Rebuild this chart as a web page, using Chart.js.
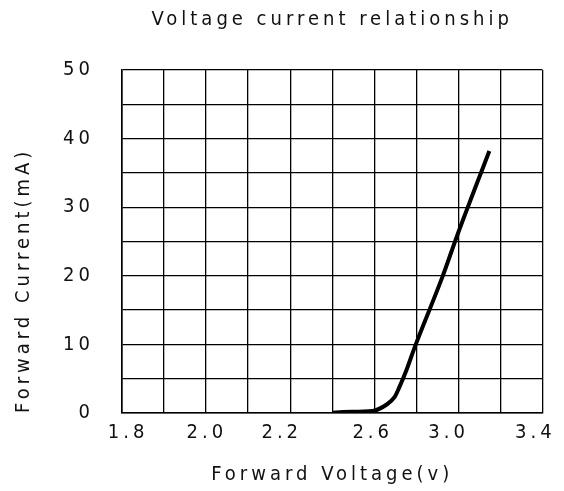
<!DOCTYPE html>
<html>
<head>
<meta charset="utf-8">
<script src="https://cdn.jsdelivr.net/npm/chart.js@4/dist/chart.umd.min.js"></script>
<style>
  body { margin: 0; background: #fff; }
  #wrap { width: 564px; height: 491px; }
</style>
</head>
<body>
<div id="wrap"><canvas id="ivChart"></canvas></div>
<script>
'use strict';

// curve (x in axis units, y in mA)
const forwardVoltage = [2.600, 2.640, 2.754, 2.806, 2.837, 2.856, 2.883, 2.914, 3.019, 3.074, 3.198];
const forwardCurrent = [0, 0.15, 0.3, 1.2, 2.3, 3.8, 6.3, 9.6, 19.8, 25.7, 38.2];

// x tick labels and where they sit along the axis
const xTickLabels = ['1.8', '2.0', '2.2', '2.6', '3.0', '3.4'];
const xTickValues = [1.823, 2.123, 2.408, 2.754, 3.043, 3.373];

const fontFamily = '"Liberation Sans Narrow", "DejaVu Sans Condensed", "Liberation Sans", sans-serif';
const textFont = { family: fontFamily, size: 20 };

// the reference text is widely spaced
const spacing = {
  id: 'spacing',
  beforeLayout(chart) { chart.ctx.letterSpacing = '4px'; },
  beforeDraw(chart) { chart.ctx.letterSpacing = '4px'; }
};

let ctx = document.getElementById('ivChart');
let ivChart = new Chart(ctx, {
  type: 'line',
  data: {
    datasets: [{
      data: forwardVoltage.map((v, i) => ({ x: v, y: forwardCurrent[i] })),
      borderColor: '#000',
      borderWidth: 4,
      pointRadius: 0,
      cubicInterpolationMode: 'monotone',
      xAxisID: 'x',
      yAxisID: 'y'
    }]
  },
  options: {
    responsive: true,
    maintainAspectRatio: false,
    animation: false,
    layout: { padding: { top: 0, right: 21, bottom: 0, left: 0 } },
    plugins: {
      legend: { display: false },
      tooltip: { enabled: false },
      title: {
        display: true,
        text: 'Voltage current relationship',
        fullSize: false,
        color: '#111',
        font: { family: fontFamily, size: 20, weight: 'normal' },
        padding: { top: 8, bottom: 38 }
      }
    },
    scales: {
      x: {
        type: 'linear',
        min: 1.8,
        max: 3.4,
        weight: 0,
        afterBuildTicks(scale) {
          // 10 equal columns
          scale.ticks = [];
          for (let i = 0; i <= 10; i++) {
            scale.ticks.push({ value: scale.min + i * (scale.max - scale.min) / 10 });
          }
        },
        afterFit(scale) { scale.height = 0; },
        ticks: { display: false },
        grid: { color: '#000', lineWidth: 1.3, drawTicks: false },
        border: { color: '#000', width: 1.6 }
      },
      xTicks: {
        type: 'linear',
        position: 'bottom',
        min: 1.8,
        max: 3.4,
        weight: 1,
        afterBuildTicks(scale) {
          scale.ticks = xTickValues.map(v => ({ value: v }));
        },
        afterFit(scale) { scale.height = 78; },
        ticks: {
          autoSkip: false,
          maxRotation: 0,
          padding: 8,
          color: '#111',
          font: textFont,
          callback: (value, index) => xTickLabels[index]
        },
        grid: { display: false, drawTicks: false },
        border: { display: false },
        title: {
          display: true,
          text: 'Forward Voltage(v)',
          color: '#111',
          font: textFont,
          padding: { top: 0, bottom: 4 }
        }
      },
      y: {
        min: 0,
        max: 50,
        afterFit(scale) { scale.width = 122; },
        ticks: {
          stepSize: 5,
          padding: 28,
          color: '#111',
          font: textFont,
          callback: v => (v % 10 === 0 ? v : '')
        },
        grid: { color: '#000', lineWidth: 1.3, drawTicks: false },
        border: { color: '#000', width: 1.6 },
        title: {
          display: true,
          text: 'Forward Current(mA)',
          align: 'start',
          color: '#111',
          font: textFont,
          padding: { top: 12, bottom: 0 }
        }
      }
    }
  },
  plugins: [spacing]
});
</script>
</body>
</html>
